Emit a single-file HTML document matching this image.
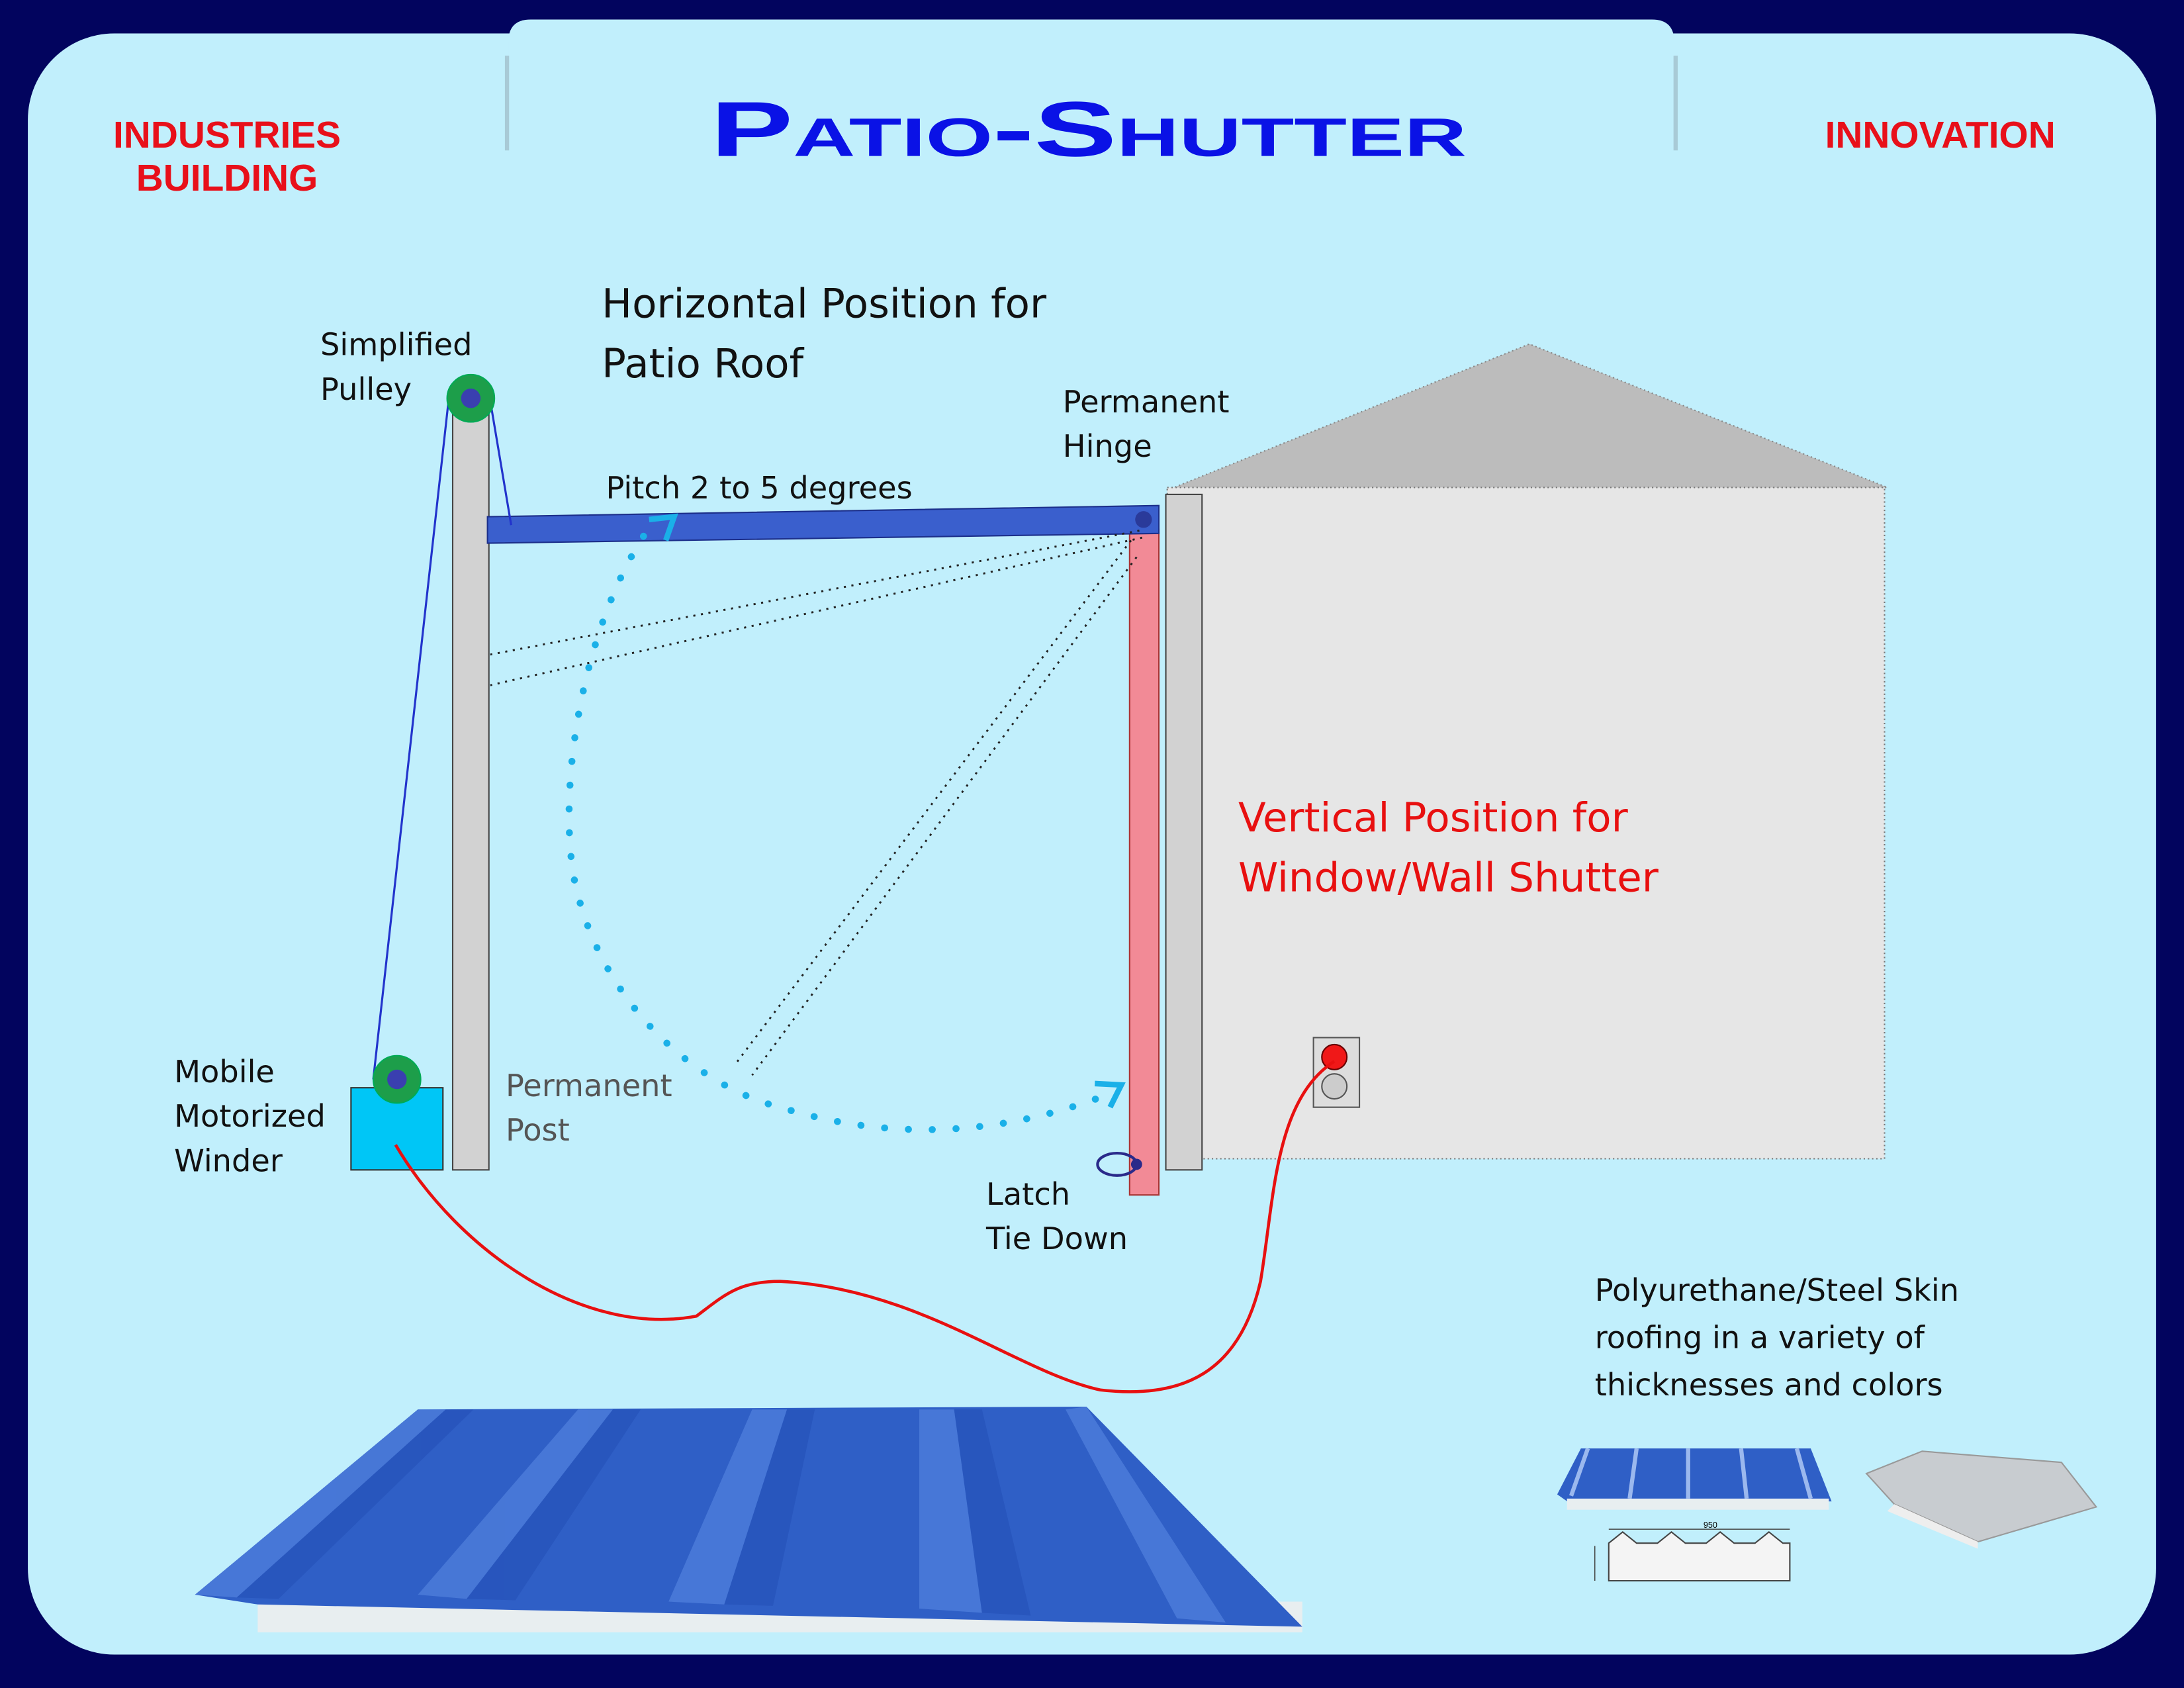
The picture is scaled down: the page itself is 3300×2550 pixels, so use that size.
<!DOCTYPE html>
<html><head><meta charset="utf-8"><style>
html,body{margin:0;padding:0;background:#02045e;}
svg{display:block}
.h{font-family:"DejaVu Sans","Liberation Sans",sans-serif;}
</style></head><body>
<svg width="3300" height="2550" viewBox="0 0 1568 1212" preserveAspectRatio="none" xmlns="http://www.w3.org/2000/svg">
<rect x="0" y="0" width="1568" height="1212" fill="#02045e"/>
<rect x="20" y="24" width="1528" height="1164" rx="62" fill="#c1effc"/>
<path d="M365,110 L365,30 Q365,14 381,14 L1186,14 Q1202,14 1202,30 L1202,110 Z" fill="#c1effc"/>
<line x1="364" y1="40" x2="364" y2="108" stroke="#a8cad6" stroke-width="3"/>
<line x1="1203" y1="40" x2="1203" y2="108" stroke="#a8cad6" stroke-width="3"/>
<text x="510" y="112" textLength="543" lengthAdjust="spacingAndGlyphs" font-family="Liberation Sans,sans-serif" font-weight="bold" font-size="56" fill="#0a12e6" style="font-variant:small-caps">Patio-Shutter</text>
<g font-family="Liberation Sans,sans-serif" font-weight="bold" font-size="27" fill="#e8101a" text-anchor="middle">
<text x="163" y="106">INDUSTRIES</text><text x="163" y="137">BUILDING</text><text x="1393" y="106">INNOVATION</text></g>

<polygon points="838,352 1098,247 1355,350" fill="#bcbcbc" stroke="#888" stroke-dasharray="1,2"/>
<rect x="838" y="350" width="515" height="482" fill="#e6e6e6" stroke="#777" stroke-dasharray="1,2"/>
<rect x="837" y="355" width="26" height="485" fill="#d2d2d2" stroke="#444"/>
<rect x="811" y="380" width="21" height="478" fill="#f28a96" stroke="#a33"/>
<rect x="943" y="745" width="33" height="50" fill="#ddd" stroke="#555"/>
<circle cx="958" cy="759" r="9" fill="#f01818" stroke="#600"/>
<circle cx="958" cy="780" r="9" fill="#ccc" stroke="#555"/>

<rect x="325" y="285" width="26" height="555" fill="#d2d2d2" stroke="#444"/>
<polygon points="350,371 832,363 832,383 350,390" fill="#3a5fcd" stroke="#1c2f8a"/>
<circle cx="821" cy="373" r="6" fill="#2a3a9a"/>
<g stroke="#222" stroke-width="1.4" stroke-dasharray="1.5,4" fill="none">
<line x1="818" y1="381" x2="352" y2="470"/>
<line x1="820" y1="386" x2="352" y2="492"/>
<line x1="812" y1="388" x2="528" y2="764"/>
<line x1="816" y1="400" x2="540" y2="772"/>
</g>
<line x1="322" y1="288" x2="268" y2="775" stroke="#2233cc" stroke-width="1.5"/>
<line x1="352" y1="288" x2="367" y2="377" stroke="#2233cc" stroke-width="1.5"/>
<circle cx="338" cy="286" r="17" fill="#1d9e4a" stroke="#0a5"/>
<circle cx="338" cy="286" r="7" fill="#3a3fb0"/>
<rect x="252" y="781" width="66" height="59" fill="#00c6f6" stroke="#333"/>
<circle cx="285" cy="775" r="17" fill="#1d9e4a" stroke="#0a5"/>
<circle cx="285" cy="775" r="7" fill="#3a3fb0"/>

<path d="M462,385 C420,450 400,560 412,630 C430,720 500,780 560,795 C640,820 720,815 795,786" fill="none" stroke="#1ab0e8" stroke-width="5" stroke-dasharray="0.1,17" stroke-linecap="round"/>
<path d="M466,373 L484,371 L478,388" fill="none" stroke="#1ab0e8" stroke-width="4"/>
<path d="M786,778 L805,779 L797,795" fill="none" stroke="#1ab0e8" stroke-width="4"/>

<ellipse cx="802" cy="836" rx="14" ry="8" fill="none" stroke="#2a2a8a" stroke-width="2"/>
<circle cx="816" cy="836" r="4" fill="#2a2a8a"/>

<path d="M284,822 C330,900 420,960 500,945 C520,930 530,920 560,920 C660,925 730,985 790,998 C850,1005 890,985 905,920 C915,860 915,790 958,762" fill="none" stroke="#e81010" stroke-width="2.2"/>

<g class="h" fill="#111" font-size="22">
<text x="230" y="255">Simplified</text><text x="230" y="287">Pulley</text>
<text x="763" y="296">Permanent</text><text x="763" y="328">Hinge</text>
<text x="435" y="358">Pitch 2 to 5 degrees</text>
<text x="125" y="777">Mobile</text><text x="125" y="809">Motorized</text><text x="125" y="841">Winder</text>
<text x="708" y="865">Latch</text><text x="708" y="897">Tie Down</text>
<text x="1145" y="934">Polyurethane/Steel Skin</text><text x="1145" y="968">roofing in a variety of</text><text x="1145" y="1002">thicknesses and colors</text>
</g>
<g class="h" fill="#555" font-size="22"><text x="363" y="787">Permanent</text><text x="363" y="819">Post</text></g>
<g class="h" fill="#111" font-size="29"><text x="432" y="228">Horizontal Position for</text><text x="432" y="271">Patio Roof</text></g>
<g class="h" fill="#e81010" font-size="29"><text x="889" y="597">Vertical Position for</text><text x="889" y="640">Window/Wall Shutter</text></g>

<polygon points="185,1150 935,1150 935,1172 185,1172" fill="#e8eef0"/>
<polygon points="140,1145 300,1012 780,1010 935,1168 185,1152" fill="#2f5fc6"/>
<g fill="#4a7ad8" opacity="0.9">
<polygon points="140,1145 300,1012 320,1012 170,1147"/>
<polygon points="300,1145 415,1012 440,1012 335,1148"/>
<polygon points="480,1150 540,1012 565,1012 520,1152"/>
<polygon points="660,1155 660,1012 685,1012 705,1158"/>
<polygon points="845,1162 765,1012 780,1010 880,1165"/>
</g>
<g fill="#2550b8" opacity="0.6">
<polygon points="170,1147 320,1012 340,1012 200,1148"/>
<polygon points="335,1148 440,1012 460,1012 370,1149"/>
<polygon points="520,1152 565,1012 585,1012 555,1153"/>
<polygon points="705,1158 685,1012 705,1012 740,1160"/>
</g>

<polygon points="1118,1073 1135,1040 1300,1040 1315,1078 1128,1080" fill="#2f5fc6"/>
<rect x="1125" y="1076" width="188" height="8" fill="#e8eef0"/>
<g stroke="#9bb8ee" stroke-width="3"><line x1="1140" y1="1040" x2="1128" y2="1074"/><line x1="1175" y1="1040" x2="1170" y2="1076"/><line x1="1212" y1="1040" x2="1212" y2="1076"/><line x1="1250" y1="1040" x2="1254" y2="1076"/><line x1="1290" y1="1040" x2="1300" y2="1076"/></g>
<polygon points="1340,1058 1380,1042 1480,1050 1505,1082 1420,1107 1360,1080" fill="#c8ccd0" stroke="#999"/>
<polygon points="1360,1080 1420,1107 1420,1112 1355,1085" fill="#eee"/>
<path d="M1155,1135 L1155,1108 L1165,1100 L1175,1108 L1190,1108 L1200,1100 L1210,1108 L1225,1108 L1235,1100 L1245,1108 L1260,1108 L1270,1100 L1280,1108 L1285,1108 L1285,1135 Z" fill="#f4f4f4" stroke="#444"/>
<line x1="1155" y1="1098" x2="1285" y2="1098" stroke="#444" stroke-width="0.7"/>
<text x="1228" y="1097" font-size="6" text-anchor="middle" font-family="Liberation Sans,sans-serif">950</text>
<line x1="1145" y1="1110" x2="1145" y2="1135" stroke="#444" stroke-width="0.7"/>
</svg>
</body></html>
